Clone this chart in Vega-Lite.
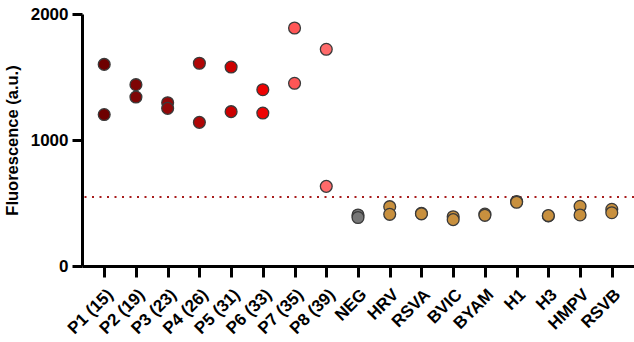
{
  "$schema": "https://vega.github.io/schema/vega-lite/v6.json",
  "autosize": "none",
  "padding": {"left": 82, "top": 14, "right": 0, "bottom": 76},
  "width": 552,
  "height": 252,
  "background": "white",
  "config": {
    "view": {"stroke": null},
    "font": "Liberation Sans"
  },
  "datasets": {
    "pts": [
      {"sample": "P1 (15)", "value": 1600},
      {"sample": "P1 (15)", "value": 1202},
      {"sample": "P2 (19)", "value": 1439},
      {"sample": "P2 (19)", "value": 1341},
      {"sample": "P3 (23)", "value": 1296},
      {"sample": "P3 (23)", "value": 1251},
      {"sample": "P4 (26)", "value": 1609},
      {"sample": "P4 (26)", "value": 1140},
      {"sample": "P5 (31)", "value": 1579},
      {"sample": "P5 (31)", "value": 1225},
      {"sample": "P6 (33)", "value": 1399},
      {"sample": "P6 (33)", "value": 1214},
      {"sample": "P7 (35)", "value": 1889},
      {"sample": "P7 (35)", "value": 1450},
      {"sample": "P8 (39)", "value": 1720},
      {"sample": "P8 (39)", "value": 632},
      {"sample": "NEG", "value": 405},
      {"sample": "NEG", "value": 385},
      {"sample": "HRV", "value": 471},
      {"sample": "HRV", "value": 410},
      {"sample": "RSVA", "value": 418},
      {"sample": "RSVA", "value": 414},
      {"sample": "BVIC", "value": 391},
      {"sample": "BVIC", "value": 368},
      {"sample": "BYAM", "value": 412},
      {"sample": "BYAM", "value": 402},
      {"sample": "H1", "value": 512},
      {"sample": "H1", "value": 506},
      {"sample": "H3", "value": 397},
      {"sample": "H3", "value": 400},
      {"sample": "HMPV", "value": 474},
      {"sample": "HMPV", "value": 405},
      {"sample": "RSVB", "value": 450},
      {"sample": "RSVB", "value": 423}
    ],
    "cut": [{"threshold": 548}]
  },
  "layer": [
    {
      "data": {"name": "cut"},
      "mark": {"type": "rule", "color": "#a81c1c", "strokeWidth": 2, "strokeDash": [2, 5.5]},
      "encoding": {
        "y": {"field": "threshold", "type": "quantitative", "scale": {"domain": [0, 2000]}}
      }
    },
    {
      "data": {"name": "pts"},
      "mark": {"type": "point", "filled": true, "size": 140, "stroke": "#3a3a3a", "strokeWidth": 1.3, "opacity": 1},
      "encoding": {
        "x": {
          "field": "sample", "type": "nominal",
          "sort": ["P1 (15)", "P2 (19)", "P3 (23)", "P4 (26)", "P5 (31)", "P6 (33)", "P7 (35)", "P8 (39)", "NEG", "HRV", "RSVA", "BVIC", "BYAM", "H1", "H3", "HMPV", "RSVB"],
          "scale": {"type": "point", "padding": 0.7},
          "axis": {
            "title": null,
            "labelAngle": -45,
            "labelAlign": "right",
            "labelBaseline": "top",
            "labelFont": "Liberation Sans",
            "labelFontWeight": "bold",
            "labelFontSize": 17,
            "labelColor": "black",
            "labelPadding": 9,
            "labelOffset": 0,
            "domainColor": "black",
            "domainWidth": 3,
            "tickColor": "black",
            "tickWidth": 3,
            "tickSize": 11
          }
        },
        "y": {
          "field": "value", "type": "quantitative",
          "scale": {"domain": [0, 2000], "nice": false},
          "axis": {
            "title": "Fluorescence (a.u.)",
            "titleFont": "Liberation Sans",
            "titleFontWeight": "bold",
            "titleFontSize": 16.5,
            "titleColor": "black",
            "titlePadding": 10,
            "values": [0, 1000, 2000],
            "format": "d",
            "grid": false,
            "labelFont": "Liberation Sans",
            "labelFontWeight": "bold",
            "labelFontSize": 17,
            "labelColor": "black",
            "labelPadding": 4,
            "domainColor": "black",
            "domainWidth": 3,
            "tickColor": "black",
            "tickWidth": 3,
            "tickSize": 10
          }
        },
        "fill": {
          "field": "sample", "type": "nominal",
          "scale": {
            "domain": ["P1 (15)", "P2 (19)", "P3 (23)", "P4 (26)", "P5 (31)", "P6 (33)", "P7 (35)", "P8 (39)", "NEG", "HRV", "RSVA", "BVIC", "BYAM", "H1", "H3", "HMPV", "RSVB"],
            "range": ["#6e0000", "#7e0505", "#920808", "#b00606", "#cc0000", "#ee0202", "#ff5656", "#ff6a6a", "#777777", "#c8903e", "#c8903e", "#c8903e", "#c8903e", "#c8903e", "#c8903e", "#c8903e", "#c8903e"]
          },
          "legend": null
        }
      }
    }
  ]
}
